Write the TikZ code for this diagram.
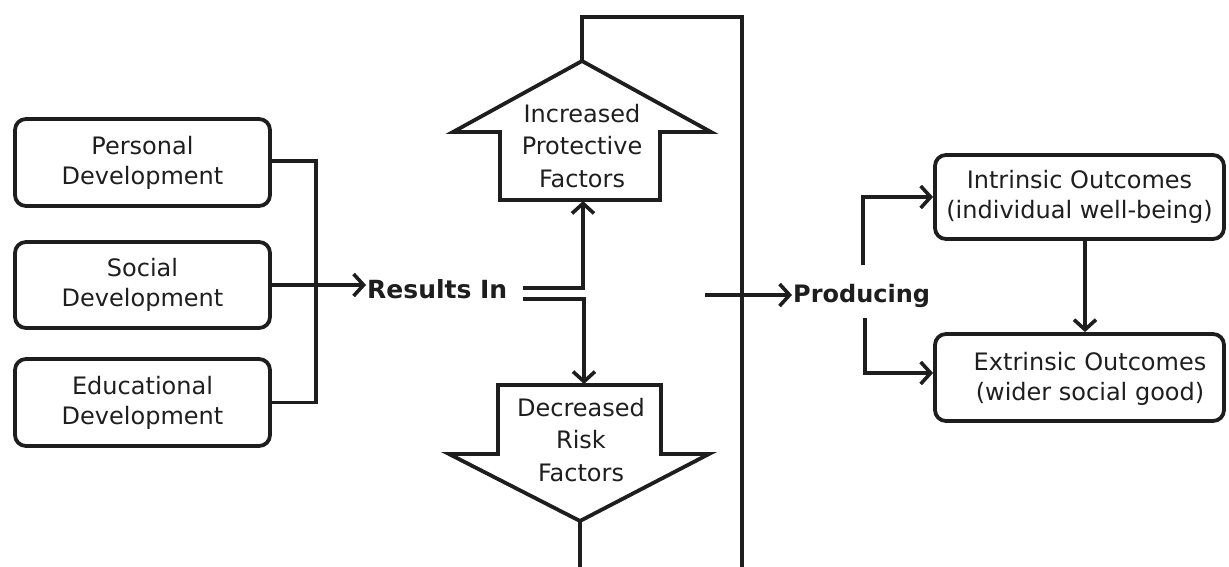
\documentclass[tikz,border=0pt]{standalone}
\usepackage{fontspec}
\setmainfont{DejaVu Sans}
\usetikzlibrary{arrows.meta}
\definecolor{ink}{HTML}{1E1E1E}
\begin{document}
\begin{tikzpicture}[x=1pt,y=-1pt,
  every node/.style={font=\fontsize{24}{30}\selectfont, text=ink},
  rbox/.style={draw=ink, line width=3.8pt, rounded corners=11pt, align=center, inner sep=0pt},
  shapeline/.style={draw=ink, line width=3.8pt, line join=miter},
  conn/.style={draw=ink, line width=3.2pt},
  arr/.style={conn, -{Straight Barb[length=10pt,width=22pt,line width=3.6pt]}},
  lbl/.style={font=\fontsize{24}{30}\selectfont\bfseries, inner sep=1pt}
]
\useasboundingbox (0,0) rectangle (1229,567);

% left boxes
\node[rbox, minimum width=255pt, minimum height=87pt] (pers) at (142.5,162.5) {Personal\\Development};
\node[rbox, minimum width=255pt, minimum height=86pt] (soc) at (142.5,285) {Social\\Development};
\node[rbox, minimum width=255pt, minimum height=87pt] (edu) at (142.5,402.5) {Educational\\Development};

% right boxes
\node[rbox, minimum width=289pt, minimum height=84pt] (intr) at (1079.5,197) {Intrinsic Outcomes\\(individual well-being)};
\node[rbox, minimum width=289pt, minimum height=87pt] (ext) at (1079.5,377.5) {};
\node[align=center, inner sep=0pt] (extlbl) at (1090,379) {Extrinsic Outcomes\\(wider social good)};

% labels
\node[lbl, anchor=base west, font=\fontsize{25}{30}\selectfont\bfseries] (res) at (366,298) {Results In};
\node[lbl, anchor=base west] (prod) at (792,302) {Producing};

% block arrows
\coordinate (upapex) at (582,61);
\coordinate (upbot) at (583,200);
\draw[shapeline] (upapex) -- (453,132) -- (500,132) -- (500,200) -- (660,200) -- (660,132) -- (711,132) -- cycle;
\node[align=center, inner sep=0pt, font=\fontsize{24}{32.5}\selectfont] (inc) at (582,146) {Increased\\Protective\\Factors};

\coordinate (dntop) at (584,385);
\coordinate (dnapex) at (580,521);
\draw[shapeline] (498,385) -- (661,385) -- (661,454) -- (709,454) -- (dnapex) -- (449,454) -- (498,454) -- cycle;
\node[align=center, inner sep=0pt, font=\fontsize{24}{32.5}\selectfont] (dec) at (581,440) {Decreased\\Risk\\Factors};

% frame
\coordinate (ftl) at (582,17);
\coordinate (ftr) at (742,17);
\coordinate (fbr) at (742,567);
\coordinate (fbl) at (580,567);
\draw[conn, line join=miter] (upapex) -- (ftl) -- (ftr) -- (fbr);
\draw[conn] (dnapex) -- (fbl);

% left bracket
\coordinate (lj) at (316,161);
\draw[conn] (pers.east |- lj) -- (lj) -- (lj |- edu.east) -- (edu.east);
\draw[arr] (soc.east) -- (soc.east -| res.west);

% split lines
\coordinate (eqA) at (523,288);
\coordinate (eqB) at (523,299);
\draw[arr] (eqA) -- (583,288) -- ([yshift=-1pt]upbot);
\draw[arr] (eqB) -- (584,299) -- ([yshift=1pt]dntop);

% producing
\coordinate (pst) at (705,295);
\draw[arr] (pst) -- (pst -| prod.west);

% right bracket
\coordinate (ua) at (863,265);
\coordinate (la) at (865,318);
\draw[arr] (ua) |- (intr.west);
\draw[arr] (la) |- ([yshift=4.5pt]ext.west);
\draw[arr] ([xshift=5.5pt]intr.south) -- ([xshift=5.5pt]ext.north);
\end{tikzpicture}
\end{document}
